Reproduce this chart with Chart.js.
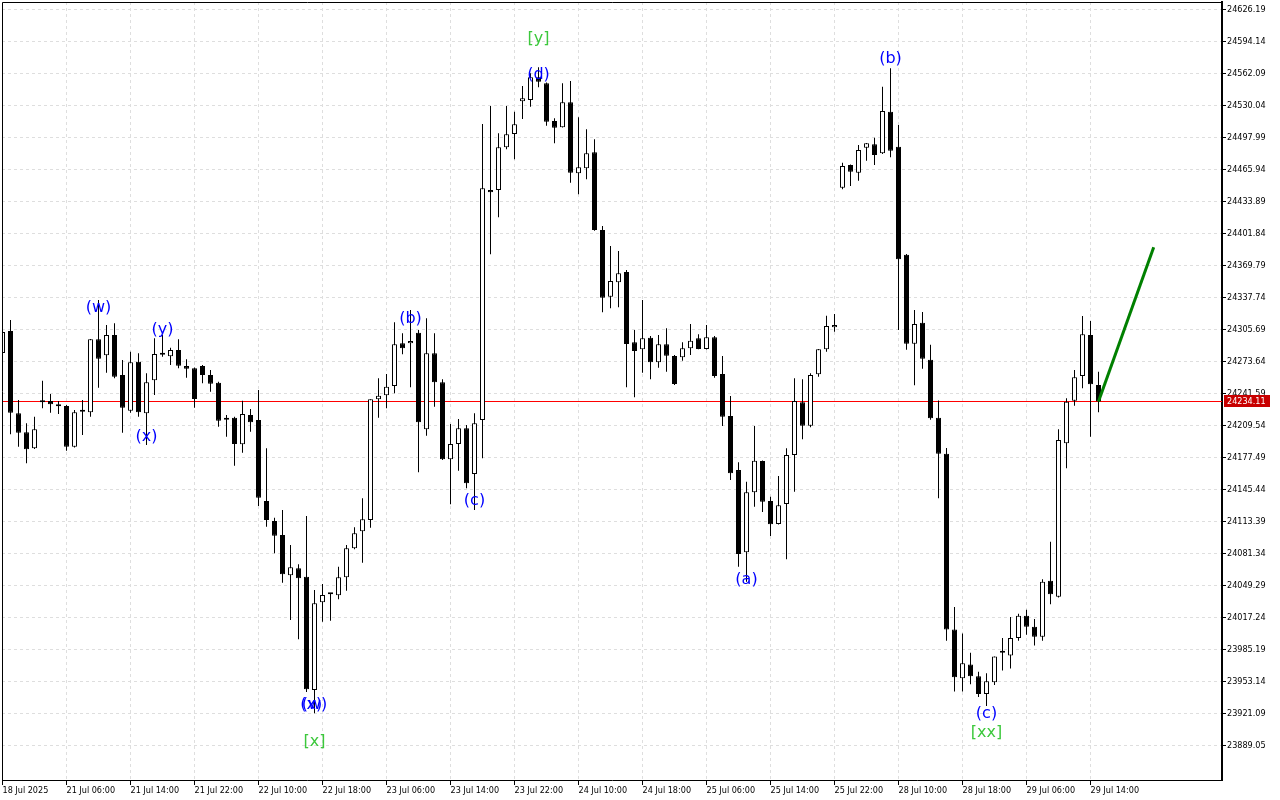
<!DOCTYPE html>
<html>
<head>
<meta charset="utf-8">
<script src="https://cdn.jsdelivr.net/npm/chart.js@4.4.1/dist/chart.umd.min.js"></script>
<style>
  html, body { margin: 0; padding: 0; background: #ffffff; }
  canvas { display: block; }
</style>
</head>
<body>
<canvas id="chart" width="1280" height="800"></canvas>
<script>
// H1 candles, 18 Jul 2025 .. 29 Jul 2025 (138 bars), prices
const opens = [
  24282.6, 24304.7, 24222.2, 24203.2, 24187.2, 24233.3, 24234.6, 24231.3, 24229.6, 24188.8,
  24223.8, 24223.2, 24296.3, 24280.3, 24300.7, 24260.6, 24224.8, 24273.9, 24222.2, 24255.3,
  24281.0, 24279.3, 24285.6, 24269.6, 24267.3, 24269.6, 24260.6, 24252.9, 24216.2, 24217.8,
  24191.2, 24220.5, 24215.5, 24134.4, 24114.4, 24100.3, 24060.0, 24067.0, 24058.6, 23945.1,
  24032.9, 24041.4, 24039.9, 24058.0, 24087.0, 24104.0, 24115.4, 24236.3, 24240.3, 24249.6,
  24292.3, 24292.3, 24303.0, 24206.2, 24282.3, 24253.3, 24176.2, 24191.5, 24207.2, 24161.4,
  24215.5, 24445.9, 24445.9, 24488.7, 24502.0, 24534.7, 24536.0, 24558.8, 24552.8, 24515.0,
  24508.7, 24533.7, 24462.6, 24467.6, 24483.7, 24405.8, 24339.0, 24353.4, 24363.8, 24293.3,
  24286.3, 24297.9, 24273.3, 24291.3, 24279.6, 24278.3, 24287.3, 24297.3, 24286.6, 24298.4,
  24261.6, 24219.5, 24165.4, 24083.0, 24143.1, 24174.5, 24134.4, 24111.4, 24131.4, 24180.5,
  24233.3, 24209.8, 24261.3, 24286.3, 24308.4, 24448.2, 24470.9, 24463.2, 24488.3, 24491.7,
  24482.6, 24524.3, 24489.3, 24381.1, 24291.9, 24312.9, 24276.0, 24217.7, 24181.7, 24005.6,
  23956.8, 23970.7, 23958.8, 23941.0, 23952.8, 23982.5, 23979.8, 23997.3, 24019.5, 24008.4,
  23998.5, 24054.6, 24038.6, 24192.2, 24234.9, 24259.6, 24300.7, 24250.6
]
const highs = [
  24314.7, 24315.7, 24235.6, 24212.2, 24218.8, 24254.9, 24241.6, 24234.6, 24230.6, 24225.5,
  24235.6, 24296.6, 24335.7, 24310.7, 24312.4, 24275.6, 24283.9, 24282.3, 24262.3, 24297.3,
  24300.7, 24287.9, 24296.3, 24276.3, 24268.1, 24270.6, 24265.6, 24253.9, 24220.5, 24218.8,
  24234.9, 24226.5, 24245.6, 24187.2, 24117.7, 24125.4, 24090.3, 24071.0, 24119.4, 24045.2,
  24051.3, 24041.9, 24068.6, 24090.3, 24108.1, 24137.1, 24236.3, 24257.3, 24261.6, 24313.4,
  24302.4, 24325.7, 24305.7, 24317.4, 24302.4, 24256.3, 24211.5, 24216.5, 24210.5, 24222.2,
  24512.0, 24530.0, 24502.7, 24530.0, 24524.3, 24550.1, 24562.8, 24568.8, 24553.6, 24517.7,
  24552.8, 24555.1, 24518.7, 24506.7, 24496.7, 24409.8, 24389.8, 24384.8, 24365.8, 24305.7,
  24335.7, 24299.7, 24300.7, 24307.4, 24280.6, 24293.3, 24311.7, 24301.4, 24310.7, 24299.7,
  24279.6, 24239.6, 24173.2, 24153.7, 24209.5, 24175.0, 24138.7, 24159.4, 24187.2, 24257.3,
  24256.3, 24262.3, 24286.6, 24320.0, 24321.7, 24473.2, 24471.4, 24490.9, 24493.0, 24498.3,
  24549.4, 24567.8, 24511.0, 24381.8, 24325.6, 24323.6, 24291.0, 24235.2, 24187.6, 24028.2,
  24001.6, 23982.5, 23963.5, 23961.9, 23978.6, 23997.3, 24018.2, 24021.4, 24025.4, 24016.3,
  24056.0, 24093.6, 24206.2, 24237.3, 24265.6, 24319.7, 24314.7, 24263.9
]
const lows = [
  24279.6, 24201.2, 24188.8, 24172.2, 24186.5, 24227.3, 24222.8, 24221.5, 24184.8, 24188.0,
  24200.5, 24218.8, 24247.9, 24262.9, 24257.3, 24202.8, 24222.8, 24218.8, 24190.5, 24240.6,
  24278.9, 24270.6, 24267.3, 24257.9, 24227.8, 24252.3, 24243.9, 24208.8, 24198.8, 24169.8,
  24182.8, 24203.8, 24129.4, 24108.7, 24082.0, 24052.6, 24015.2, 23995.9, 23943.1, 23921.8,
  24013.5, 24014.5, 24035.9, 24044.5, 24086.0, 24072.6, 24107.6, 24217.8, 24227.2, 24242.3,
  24281.3, 24248.3, 24163.2, 24199.8, 24228.8, 24175.5, 24131.1, 24164.7, 24147.1, 24125.4,
  24177.2, 24381.5, 24418.5, 24486.7, 24476.6, 24517.0, 24529.3, 24548.8, 24510.3, 24492.7,
  24508.5, 24453.2, 24441.6, 24456.6, 24405.1, 24323.4, 24327.4, 24328.4, 24248.3, 24238.3,
  24262.9, 24256.3, 24267.9, 24263.9, 24250.6, 24274.9, 24280.6, 24286.3, 24286.1, 24257.9,
  24209.5, 24155.4, 24068.6, 24053.6, 24128.7, 24123.4, 24099.3, 24110.9, 24076.0, 24143.7,
  24196.2, 24208.2, 24258.9, 24283.9, 24304.0, 24446.6, 24449.9, 24455.2, 24475.2, 24470.9,
  24481.9, 24478.6, 24305.7, 24285.9, 24250.3, 24266.9, 24215.7, 24137.2, 23994.5, 23943.7,
  23943.7, 23950.9, 23938.2, 23929.1, 23950.1, 23964.7, 23966.7, 23994.5, 24000.5, 23989.8,
  23994.5, 24030.9, 24037.8, 24167.2, 24229.8, 24247.3, 24198.8, 24223.2
]
const closes = [
  24303.7, 24222.8, 24202.8, 24186.2, 24206.2, 24233.8, 24231.3, 24229.3, 24188.8, 24223.2,
  24224.1, 24296.3, 24276.9, 24300.7, 24258.9, 24227.8, 24273.3, 24223.2, 24253.3, 24281.6,
  24281.4, 24285.6, 24269.9, 24266.9, 24236.6, 24260.6, 24251.9, 24214.8, 24215.9, 24191.5,
  24221.5, 24213.2, 24137.7, 24115.4, 24099.6, 24061.0, 24068.0, 24057.0, 23945.8, 24031.9,
  24040.2, 24040.9, 24058.0, 24087.0, 24102.0, 24116.1, 24236.3, 24239.9, 24248.9, 24291.3,
  24287.3, 24294.6, 24213.2, 24282.3, 24253.3, 24176.2, 24191.5, 24207.2, 24152.1, 24212.2,
  24447.6, 24443.6, 24488.7, 24501.7, 24511.7, 24537.7, 24558.8, 24554.4, 24514.3, 24508.3,
  24533.7, 24463.2, 24468.6, 24482.7, 24405.8, 24338.0, 24354.8, 24362.5, 24291.6, 24284.6,
  24297.3, 24273.3, 24291.3, 24279.9, 24251.6, 24287.3, 24294.9, 24286.6, 24298.4, 24259.6,
  24218.8, 24162.1, 24081.3, 24143.1, 24174.8, 24133.7, 24111.1, 24130.1, 24180.5, 24234.6,
  24209.8, 24260.6, 24286.3, 24309.7, 24310.7, 24469.9, 24464.2, 24485.9, 24492.7, 24480.9,
  24525.0, 24485.3, 24376.5, 24291.9, 24311.7, 24276.8, 24217.3, 24181.7, 24005.6, 23958.0,
  23971.8, 23958.8, 23941.0, 23954.0, 23978.6, 23982.8, 23997.3, 24019.5, 24008.4, 23998.5,
  24053.6, 24041.0, 24195.5, 24233.9, 24258.3, 24301.4, 24251.3, 24234.11
]
const lastPrice = 24234.11

// time axis: one label every 8 bars
const xTickIndex = [0, 8, 16, 24, 32, 40, 48, 56, 64, 72, 80, 88, 96, 104, 112, 120, 128, 136]
const xTickLabels = [
  '18 Jul 2025', '21 Jul 06:00', '21 Jul 14:00', '21 Jul 22:00', '22 Jul 10:00', '22 Jul 18:00',
  '23 Jul 06:00', '23 Jul 14:00', '23 Jul 22:00', '24 Jul 10:00', '24 Jul 18:00', '25 Jul 06:00',
  '25 Jul 14:00', '25 Jul 22:00', '28 Jul 10:00', '28 Jul 18:00', '29 Jul 06:00', '29 Jul 14:00'
]
const yTickLabels = [
  '24626.19', '24594.14', '24562.09', '24530.04', '24497.99', '24465.94', '24433.89', '24401.84',
  '24369.79', '24337.74', '24305.69', '24273.64', '24241.59', '24209.54', '24177.49', '24145.44',
  '24113.39', '24081.34', '24049.29', '24017.24', '23985.19', '23953.14', '23921.09', '23889.05'
]

// wave marks
const waveText = ['(w)', '(x)', '(y)', '(x)', '(w)', '[x]', '(b)', '(c)', '(d)', '[y]', '(a)', '(b)', '(c)', '[xx]']
const waveIndex = [12, 18, 20, 38.6, 39, 39, 51, 59, 67, 67, 93, 111, 123, 123]
const wavePrice = [24327.7, 24198.5, 24305.7, 23930.1, 23930.1, 23893.0, 24316.7, 24134.4, 24561.1, 24597.1,
  24055.3, 24577.1, 23921.1, 23902.0]
const waveMajor = [false, false, false, false, false, true, false, false, false, true, false, false, false, true]

// projection line
const arrowIndex = [137, 143.9]
const arrowPrice = [24234.11, 24388.5]

// axis ranges (8 px per bar, ~1.0016 points per px)
const xMin = -0.0625
const xMax = 152.4375
const yMax = 24634.20
const yMin = 23854.98

const tickFont = { family: '"DejaVu Sans Condensed", "Liberation Sans", sans-serif', size: 9 }
const gridColor = '#dedede'

const bars = opens.map((_, i) => i)

const overlay = {
  id: 'overlay',
  beforeDatasetsDraw(chart) {
    // bid line under the candles
    const { ctx, chartArea: a, scales: { y } } = chart
    const py = Math.round(y.getPixelForValue(lastPrice)) + 0.5
    ctx.save()
    ctx.setLineDash([])
    ctx.strokeStyle = '#ff0000'
    ctx.lineWidth = 1
    ctx.beginPath()
    ctx.moveTo(a.left, py)
    ctx.lineTo(a.right, py)
    ctx.stroke()
    ctx.restore()
  },
  afterDatasetsDraw(chart) {
    const { ctx, chartArea: a, scales: { x, y } } = chart
    ctx.save()
    ctx.beginPath()
    ctx.rect(a.left, a.top, a.right - a.left, a.bottom - a.top)
    ctx.clip()
    ctx.font = '16px "DejaVu Sans", sans-serif'
    ctx.textAlign = 'center'
    ctx.textBaseline = 'middle'
    waveText.forEach((t, i) => {
      ctx.fillStyle = waveMajor[i] ? '#3cc83c' : '#0000ff'
      ctx.fillText(t, x.getPixelForValue(waveIndex[i]), y.getPixelForValue(wavePrice[i]))
    })
    ctx.restore()

    // frame top / left
    ctx.save()
    ctx.strokeStyle = '#000000'
    ctx.lineWidth = 1
    ctx.beginPath()
    ctx.moveTo(a.left + 0.5, a.bottom)
    ctx.lineTo(a.left + 0.5, a.top + 0.5)
    ctx.lineTo(a.right, a.top + 0.5)
    ctx.stroke()
    ctx.restore()
  },
  afterDraw(chart) {
    const { ctx, chartArea: a, scales: { y } } = chart
    const py = Math.round(y.getPixelForValue(lastPrice))
    ctx.save()
    ctx.fillStyle = '#c80000'
    ctx.fillRect(a.right + 2, py - 6, 46, 12)
    ctx.fillStyle = '#ffffff'
    ctx.font = '9px "DejaVu Sans Condensed", "Liberation Sans", sans-serif'
    ctx.textAlign = 'left'
    ctx.textBaseline = 'middle'
    ctx.fillText(lastPrice.toFixed(2), a.right + 5, py + 0.5)
    ctx.restore()
  }
}

new Chart(document.getElementById('chart').getContext('2d'), {
  type: 'bar',
  data: {
    datasets: [
      {
        type: 'line',
        label: 'projection',
        data: arrowIndex.map((v, i) => ({ x: v, y: arrowPrice[i] })),
        borderColor: '#008000',
        borderWidth: 3,
        pointRadius: 0,
        order: 0,
      },
      {
        label: 'body',
        data: bars.map(i => ({ x: i, y: [opens[i], closes[i]] })),
        backgroundColor: bars.map(i => (closes[i] >= opens[i] ? '#ffffff' : '#000000')),
        borderColor: '#000000',
        borderWidth: 1,
        borderSkipped: false,
        barThickness: 5,
        minBarLength: 2,
        grouped: false,
        inflateAmount: 0,
        order: 1,
      },
      {
        label: 'wick',
        data: bars.map(i => ({ x: i, y: [lows[i], highs[i]] })),
        backgroundColor: '#000000',
        borderWidth: 0,
        barThickness: 1,
        grouped: false,
        inflateAmount: 0,
        order: 2,
      },
    ],
  },
  options: {
    responsive: false,
    animation: false,
    devicePixelRatio: 1,
    layout: { padding: { left: 2, top: 2, right: 0, bottom: 0 } },
    plugins: { legend: { display: false }, tooltip: { enabled: false } },
    scales: {
      x: {
        type: 'linear',
        position: 'bottom',
        min: xMin,
        max: xMax,
        offset: false,
        afterBuildTicks: (s) => { s.ticks = xTickIndex.map(v => ({ value: v })) },
        afterFit: (s) => { s.height = 20; s.paddingLeft = 0; s.paddingRight = 0 },
        ticks: {
          autoSkip: false,
          maxRotation: 0,
          minRotation: 0,
          align: 'start',
          padding: 0,
          color: '#000000',
          font: tickFont,
          callback: (v, i) => xTickLabels[i],
        },
        grid: { offset: false, color: gridColor, lineWidth: 1, tickLength: 5, tickColor: '#000000', tickWidth: 1 },
        border: { display: true, color: '#000000', width: 1, dash: [3, 3] },
      },
      y: {
        type: 'linear',
        position: 'right',
        min: yMin,
        max: yMax,
        afterBuildTicks: (s) => { s.ticks = yTickLabels.map(t => ({ value: parseFloat(t) })) },
        afterFit: (s) => { s.width = 58; s.paddingTop = 0; s.paddingBottom = 0 },
        ticks: {
          autoSkip: false,
          padding: 1,
          color: '#000000',
          font: tickFont,
          callback: (v, i) => yTickLabels[i],
        },
        grid: { color: gridColor, lineWidth: 1, tickLength: 4, tickColor: '#000000', tickWidth: 1 },
        border: { display: true, color: '#000000', width: 2, dash: [3, 3] },
      },
    },
  },
  plugins: [overlay],
})
</script>
</body>
</html>
